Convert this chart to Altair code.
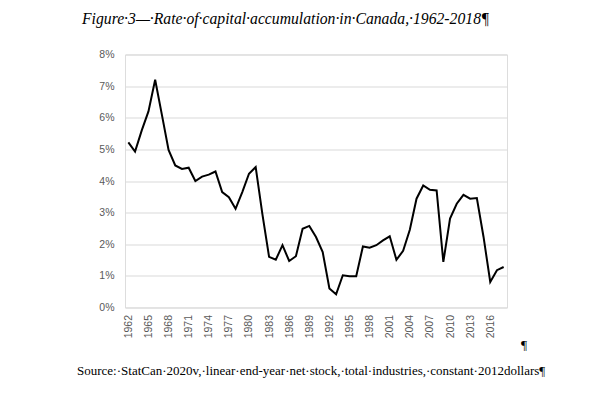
import altair as alt
import pandas as pd

years = list(range(1962, 2019))
rates = [5.22, 4.93, 5.6, 6.2, 7.2, 6.1, 4.98, 4.49, 4.38, 4.42,
         4.0, 4.14, 4.2, 4.3, 3.65, 3.49, 3.12, 3.65, 4.23, 4.44,
         2.95, 1.6, 1.51, 1.97, 1.47, 1.62, 2.49, 2.58, 2.23, 1.75,
         0.6, 0.42, 1.02, 0.99, 0.99, 1.93, 1.89, 1.97, 2.12, 2.25,
         1.51, 1.79, 2.46, 3.44, 3.86, 3.72, 3.7, 1.44, 2.81, 3.28,
         3.56, 3.44, 3.46, 2.23, 0.81, 1.18, 1.28]
y_ticks = [0, 1, 2, 3, 4, 5, 6, 7, 8]
x_label_years = list(range(1962, 2019, 3))

title_text = "Figure\u00b73\u2014\u00b7Rate\u00b7of\u00b7capital\u00b7accumulation\u00b7in\u00b7Canada,\u00b71962-2018\u00b6"
source_text = "Source:\u00b7StatCan\u00b72020v,\u00b7linear\u00b7end-year\u00b7net\u00b7stock,\u00b7total\u00b7industries,\u00b7constant\u00b72012dollars\u00b6"

df = pd.DataFrame({"year": years, "rate": rates})

W, H = 382, 253

line = alt.Chart(df).mark_line(color="black", strokeWidth=2).encode(
    x=alt.X("year:O", title=None,
            scale=alt.Scale(type="point", padding=0.5),
            axis=alt.Axis(values=x_label_years, labelAngle=270, ticks=False, tickSize=0,
                          domain=False, grid=False, labelPadding=7,
                          labelFont="Liberation Sans", labelFontSize=10.5,
                          labelColor="#595959")),
    y=alt.Y("rate:Q", title=None,
            scale=alt.Scale(domain=[0, 8], nice=False),
            axis=alt.Axis(values=y_ticks, labelExpr="datum.value + '%'", ticks=False, tickSize=0,
                          domain=False, grid=True, gridColor="#d9d9d9", gridWidth=1,
                          labelPadding=11, labelFont="Liberation Sans", labelFontSize=10.5,
                          labelColor="#595959")),
)

txt = pd.DataFrame({"t": [title_text]})
title = alt.Chart(txt).mark_text(font="Liberation Serif", fontStyle="italic", fontSize=15.7,
                                 align="left", baseline="alphabetic", color="black").encode(
    text="t:N", x=alt.value(82 - 125), y=alt.value(23.5 - 54.5))

src = alt.Chart(pd.DataFrame({"t": [source_text]})).mark_text(
    font="Liberation Serif", fontSize=13, align="left", baseline="alphabetic", color="black").encode(
    text="t:N", x=alt.value(77 - 125), y=alt.value(375 - 54.5))

pil = alt.Chart(pd.DataFrame({"t": ["\u00b6"]})).mark_text(
    font="Liberation Serif", fontSize=13.5, align="left", baseline="alphabetic", color="black").encode(
    text="t:N", x=alt.value(521 - 125), y=alt.value(349 - 54.5))

chart = alt.layer(line, title, src, pil).properties(
    width=W, height=H,
    autosize=alt.AutoSizeParams(type="none"),
    padding={"left": 117, "top": 46.5, "right": 60, "bottom": 70},
).configure_view(stroke=None).configure(background="white")

chart.save("out.html", embed_options={"renderer": "svg", "actions": False})
